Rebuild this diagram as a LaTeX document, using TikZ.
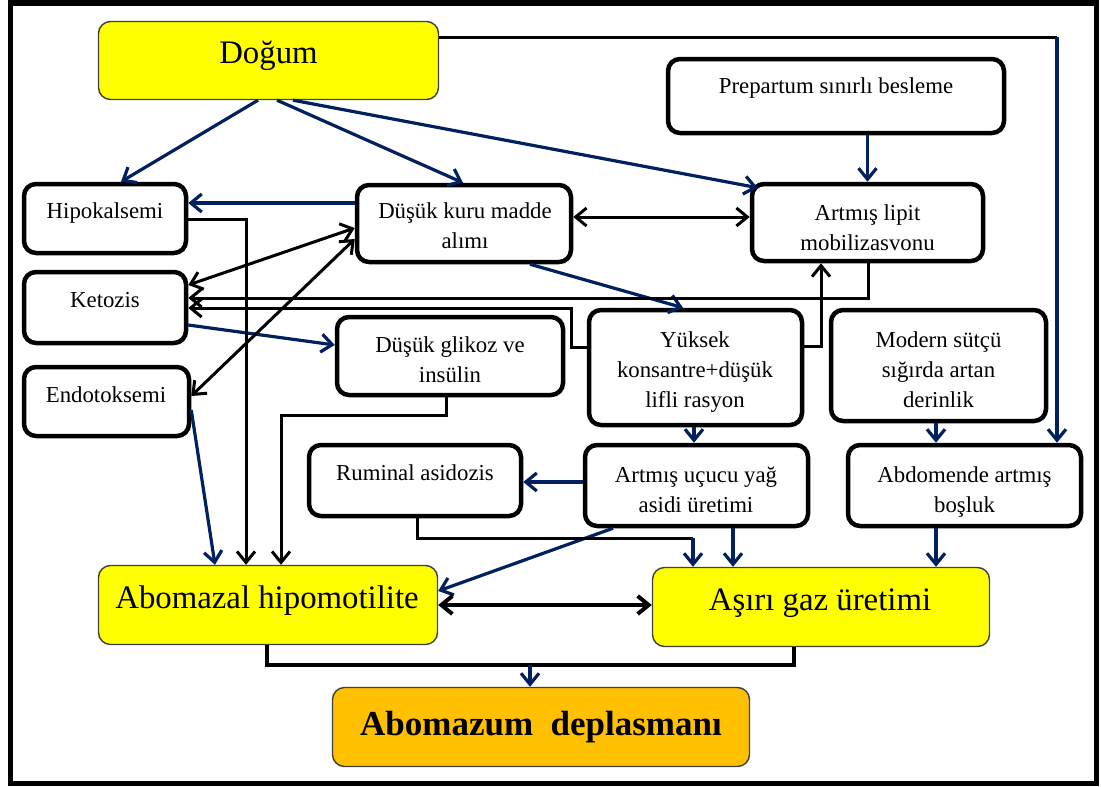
\documentclass[tikz,border=0pt]{standalone}
\usepackage{fontspec}
\setmainfont{Liberation Serif}
\usetikzlibrary{arrows.meta}
\definecolor{nv}{RGB}{0,32,96}
\definecolor{yel}{RGB}{255,255,0}
\definecolor{org}{RGB}{255,192,0}
\begin{document}
\begin{tikzpicture}[x=1pt,y=-1pt,
  box/.style={draw=black, line width=4.5pt, rounded corners=12pt, fill=white, inner sep=0pt},
  ybox/.style={draw=black!75, line width=1.4pt, rounded corners=12pt, fill=yel, inner sep=0pt},
  obox/.style={draw=black!75, line width=1.4pt, rounded corners=12pt, fill=org, inner sep=0pt},
  txt/.style={font=\fontsize{22.8}{30}\selectfont, align=center, inner sep=0pt, anchor=north},
  big/.style={font=\fontsize{32.8}{38}\selectfont, inner sep=0pt, anchor=base},
  tip/.tip={Straight Barb[length=11pt,width=18pt]},
  bl/.style={draw=nv, line width=3.2pt, -tip},
  bk/.style={draw=black, line width=3pt, -tip},
  bkd/.style={draw=black, line width=3pt, tip-tip},
  bkl/.style={draw=black, line width=3pt},
]
\useasboundingbox (0,0) rectangle (1101,787);
\draw[line width=5.5pt] (10.5,3) rectangle (1096.5,783.5);

% boxes
\node[ybox, minimum width=340pt, minimum height=78pt] (dogum) at (268.5,60.5) {};
\node[box, minimum width=336pt, minimum height=74pt] (prep) at (836,96) {};
\node[box, minimum width=162pt, minimum height=69pt] (hipo) at (105,218.5) {};
\node[box, minimum width=214pt, minimum height=77pt] (dkm) at (464,223.5) {};
\node[box, minimum width=231pt, minimum height=77pt] (lipit) at (867.5,222.5) {};
\node[box, minimum width=162pt, minimum height=71pt] (keto) at (105,307.5) {};
\node[box, minimum width=165pt, minimum height=69pt] (endo) at (106.5,401.5) {};
\node[box, minimum width=226pt, minimum height=78pt] (glik) at (450,356) {};
\node[box, minimum width=213pt, minimum height=115pt] (yuk) at (695.5,367.5) {};
\node[box, minimum width=215pt, minimum height=111pt] (mod) at (938.5,365.5) {};
\node[box, minimum width=212pt, minimum height=71pt] (rum) at (415,480.5) {};
\node[box, minimum width=223pt, minimum height=81pt] (ucu) at (696.5,485.5) {};
\node[box, minimum width=233pt, minimum height=81pt] (abd) at (964.5,485.5) {};
\node[ybox, minimum width=339pt, minimum height=79pt] (abom) at (268,605) {};
\node[ybox, minimum width=337pt, minimum height=79pt] (gaz) at (821,607) {};
\node[obox, minimum width=417pt, minimum height=79pt] (dep) at (541,727) {};

% texts
\node[big] (dogum-t) at (268.5,63) {Doğum};
\node[txt] (prep-t) at (836,72) {\strut Prepartum sınırlı besleme};
\node[txt] (hipo-t) at (105,197) {\strut Hipokalsemi};
\node[txt] (dkm-t) at (465,197) {\strut Düşük kuru madde\\alımı};
\node[txt] (lipit-t) at (867.5,199) {\strut Artmış lipit\\mobilizasvonu};
\node[txt] (keto-t) at (105,286) {\strut Ketozis};
\node[txt] (endo-t) at (106,381) {\strut Endotoksemi};
\node[txt] (glik-t) at (450,331) {\strut Düşük glikoz ve\\insülin};
\node[txt] (yuk-t) at (695,326) {\strut Yüksek\\konsantre+düşük\\lifli rasyon};
\node[txt] (mod-t) at (938.5,326) {\strut Modern sütçü\\sığırda artan\\derinlik};
\node[txt] (rum-t) at (415,459) {\strut Ruminal asidozis};
\node[txt] (ucu-t) at (696,461) {\strut Artmış uçucu yağ\\asidi üretimi};
\node[txt] (abd-t) at (964.5,461) {\strut Abdomende artmış\\boşluk};
\node[big] (abom-t) at (267,608) {Abomazal hipomotilite};
\node[big] (gaz-t) at (820,610) {Aşırı gaz üretimi};
\node[big, font=\fontsize{35}{40}\selectfont\bfseries] (dep-t) at (541,735) {Abomazum~~deplasmanı};

% helper coordinates
\coordinate (tr) at (1057,37);
\coordinate (rj) at (693,538);
\coordinate (dj) at (530,665);
\coordinate (gj) at (794,665);

% blue connectors
\draw[bl] (dogum.south -| 258,0) -- (hipo.north -| 121,0);
\draw[bl] (dogum.south -| 277,0) -- (dkm.north -| 463,0);
\draw[bl] (dogum.south -| 293,0) -- ([shift={(8,6)}]lipit.north west);
\draw[bkl] (dogum.east |- tr) -- (tr);
\draw[bl] (tr) -- (abd.north -| tr);
\draw[bl] (prep.south -| lipit.north) -- (lipit.north);
\draw[bl] (dkm.west |- 0,203) -- (hipo.east |- 0,203);
\draw[bl] (dkm.south -| 530,0) -- (yuk.north -| 683,0);
\draw[bl] (keto.east |- 0,325) -- (glik.west |- 0,345);
\draw[bl] (endo.east |- 0,410) -- (abom.north -| 215,0);
\draw[bl] (yuk.south -| 694,0) -- (ucu.north -| 694,0);
\draw[bl] (ucu.west |- 0,482) -- (rum.east |- 0,482);
\draw[bl] (ucu.south -| 613,0) -- (abom.east |- 0,591);
\draw[bl] (ucu.south -| 733,0) -- (gaz.north -| 733,0);
\draw[bl] (mod.south -| 936,0) -- (abd.north -| 936,0);
\draw[bl] (abd.south -| 936,0) -- (gaz.north -| 936,0);
\draw[bkl] (rum.south -| 417,0) |- (rj);
\draw[bl] (rj) -- (gaz.north -| rj);

% black connectors
\draw[bkd] (dkm.east |- 0,217) -- (lipit.west |- 0,217);
\draw[bk] (hipo.east |- 0,219) -| (abom.north -| 246,0);
\draw[bkd] (keto.east |- 0,285) -- (dkm.west |- 0,228);
\draw[bkd] (endo.east |- 0,396) -- (dkm.west |- 0,239);
\draw[bk] (lipit.south -| 868,0) |- (keto.east |- 0,298);
\draw[bk] (yuk.west |- 0,347) -- (571,347) |- (keto.east |- 0,308);
\draw[bk] (yuk.east |- 0,346) -| (lipit.south -| 821,0);
\draw[bk] (glik.south -| 446,0) -- (446,415) -| (abom.north -| 281,0);
\draw[bkd, line width=4pt] (abom.east |- 0,605) -- (gaz.west |- 0,605);
\draw[bkl, line width=4pt] (abom.south -| 267,0) |- (gj) -- (gaz.south -| gj);
\draw[bl] (dj) -- (dep.north -| dj);
\end{tikzpicture}
\end{document}
